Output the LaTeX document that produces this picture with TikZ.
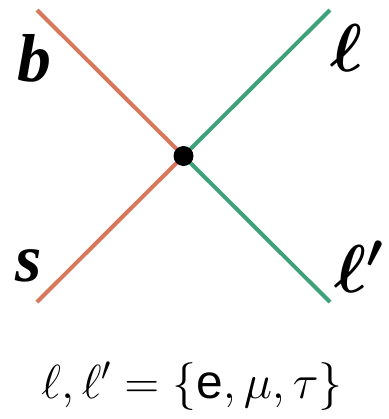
\RequirePackage{fix-cm}
\documentclass[tikz,border=0pt]{standalone}
\usepackage{amsmath}
\usepackage{fontspec}
\setmainfont{Liberation Serif}
\newfontfamily\arialfont{Liberation Sans}
\usetikzlibrary{positioning}
\definecolor{QuarkOrange}{HTML}{D9775A}
\definecolor{LeptonGreen}{HTML}{3DA27A}

\begin{document}
\begin{tikzpicture}[x=1bp,y=-1bp,line cap=butt,
  leg/.style={line width=4bp},
  lbl/.style={inner sep=0pt,font=\fontsize{68}{68}\selectfont\bfseries\itshape}]
  \useasboundingbox (0,0) rectangle (389,419);
  \coordinate (V) at (183.5,156);
  \coordinate (B) at (37,10);
  \coordinate (S) at (37,302);
  \coordinate (L) at (330,10);
  \coordinate (Lp) at (330,302);
  \draw[QuarkOrange,leg] (B)--(V)--(S);
  \draw[LeptonGreen,leg] (L)--(V)--(Lp);
  \fill (V) circle (10bp);
  \node[lbl] (bq) at (34,58) {b};
  \node[lbl] (sq) at (29,266) {s};
  \node[lbl] (l) at (347,48) {$\boldsymbol{\ell}$};
  \node[lbl] (lp) at (359,267) {$\boldsymbol{\ell'}$};
  \node[inner sep=0pt,font=\fontsize{48}{48}\selectfont] (set) at (192,386)
    {$\ell,\ell'=\{\text{\arialfont e},\mu,\tau\}$};
\end{tikzpicture}
\end{document}
